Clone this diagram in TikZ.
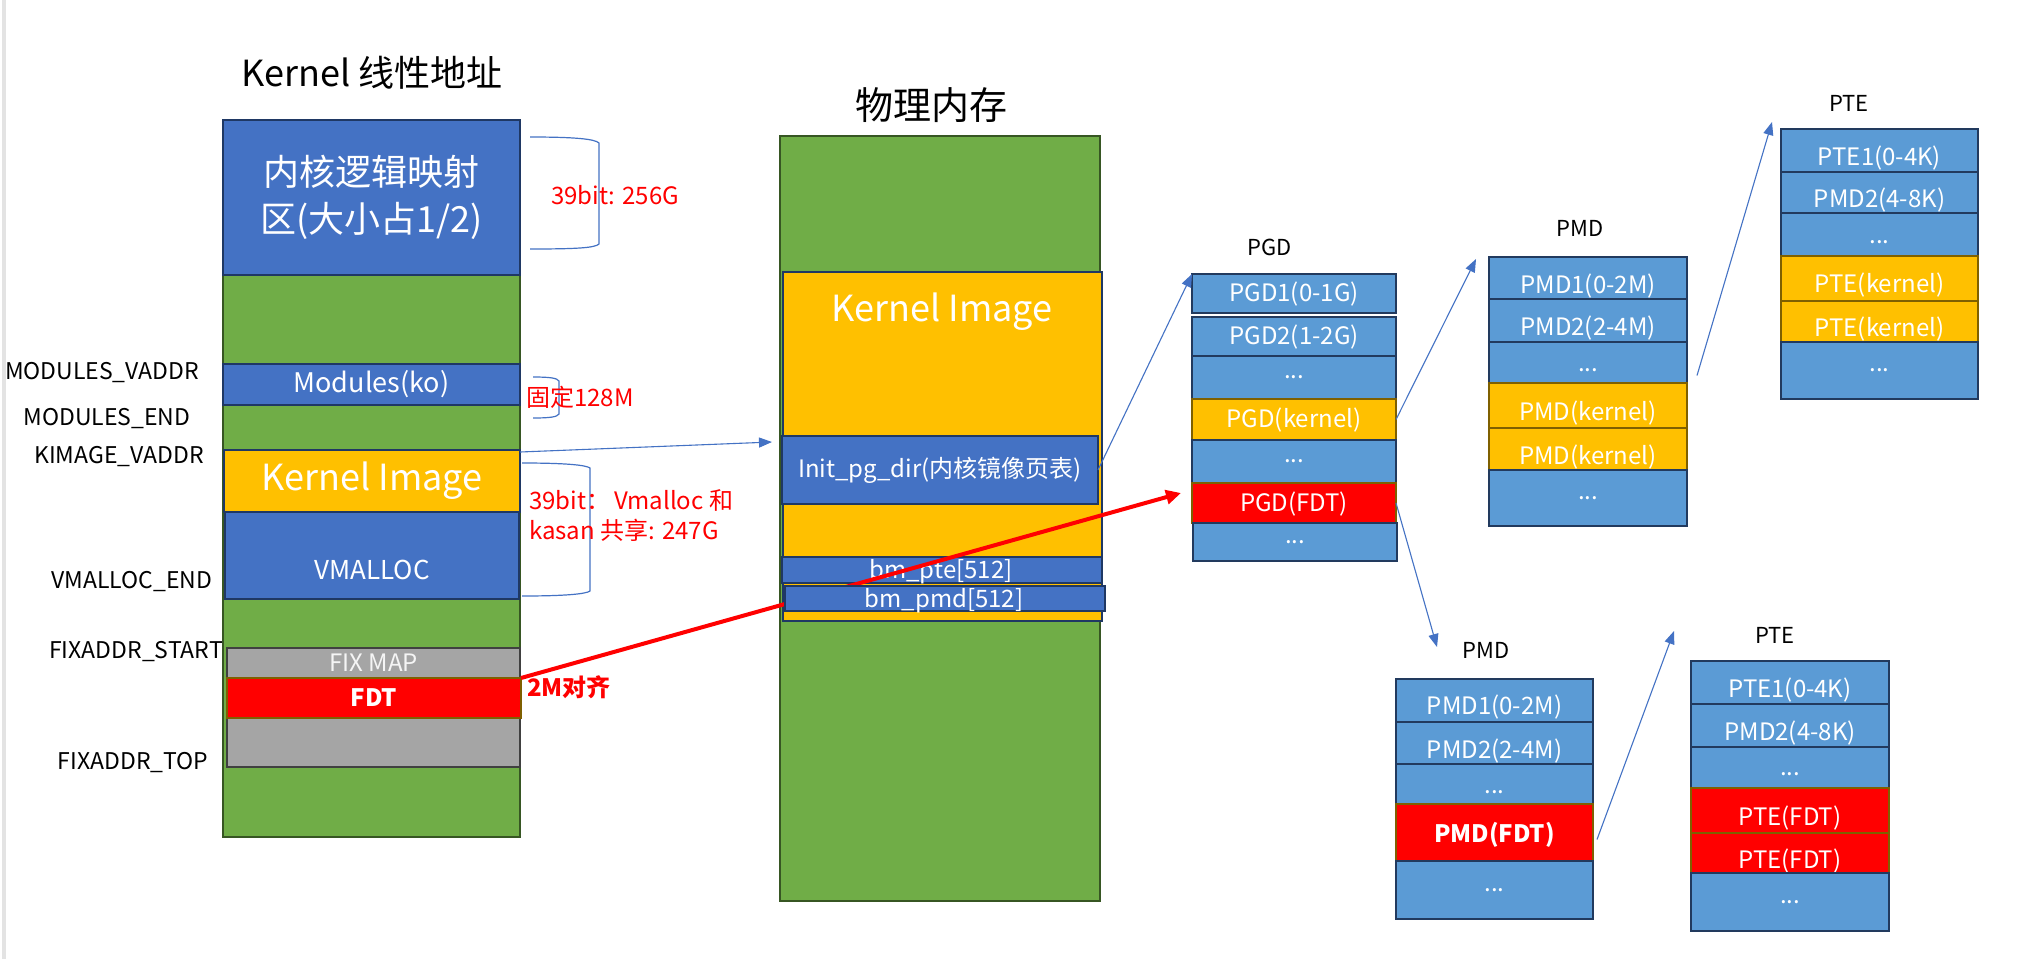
\documentclass[tikz,border=0pt]{standalone}
\usepackage{fontspec}
\setmainfont{Noto Sans CJK SC}
\usetikzlibrary{arrows.meta}
\definecolor{oblue}{HTML}{4472C4}
\definecolor{lblue}{HTML}{5B9BD5}
\definecolor{oyel}{HTML}{FFC000}
\definecolor{ogreen}{HTML}{70AD47}
\definecolor{ogray}{HTML}{A5A5A5}
\definecolor{navy}{HTML}{1F3864}
\definecolor{tbord}{HTML}{223A5E}
\definecolor{gborder}{HTML}{375623}
\definecolor{brownb}{HTML}{7F6000}
\definecolor{dgray}{HTML}{404040}
\tikzset{
  bxs/.style={rectangle,inner sep=0pt,outer sep=0pt,line width=2pt},
  bluebx/.style={fill=oblue,draw=navy},
  rowb/.style={fill=lblue,draw=tbord},
  rowy/.style={fill=oyel,draw=brownb},
  rowr/.style={fill=red,draw=brownb},
  wtxt/.style={text=white,inner sep=0pt},
  f24/.style={font=\fontsize{24}{28}\selectfont},
  f26/.style={font=\fontsize{26}{30}\selectfont},
  f27/.style={font=\fontsize{27}{31}\selectfont},
  f23/.style={font=\fontsize{23}{27}\selectfont},
  f22/.style={font=\fontsize{22}{26}\selectfont},
  f36/.style={font=\fontsize{36}{47}\selectfont},
  f38/.style={font=\fontsize{38}{44}\selectfont},
  lbl/.style={f23,inner sep=0pt,text=black},
  tlbl/.style={f22,inner sep=0pt,text=black},
  redtxt/.style={f24,inner sep=0pt,text=red,anchor=west,align=left},
  brace/.style={draw=oblue,line width=1.2pt},
  barrow/.style={draw=oblue,line width=1.1pt,-{Triangle[length=13pt,width=10pt]}},
  rarrow/.style={draw=red,line width=4pt,-{Triangle[length=15pt,width=14pt]}},
}
\newcommand{\bx}[7]{%
  \node[bxs,#6,minimum width={#4-#2},minimum height={#5-#3}] (#1) at ({(#2+#4)/2},{(#3+#5)/2}) {#7};}
\newcommand{\rw}[8]{%
  \node[bxs,#6,minimum width={#4-#2},minimum height={#5-#3}] (#1) at ({(#2+#4)/2},{(#3+#5)/2}) {};
  \node[wtxt,f24] (#1t) at ([yshift=-#8pt]#1.center) {#7};}
\begin{document}
\begin{tikzpicture}[x=1pt,y=-1pt]
\useasboundingbox (0,0) rectangle (2023,959);
\fill[white] (0,0) rectangle (2023,959);
\fill[gray!22] (2,0) rectangle (6,959);

% ---------------- left column: kernel linear address
\node[f36,inner sep=0pt] (ltitle) at (372,73) {Kernel 线性地址};
\bx{lcol}{223}{120}{520}{837}{fill=ogreen,draw=gborder}{}
\bx{lmap}{223}{120}{520}{275}{bluebx,wtxt,f36,align=center}{内核逻辑映射\\区(大小占1/2)}
\bx{lmod}{223}{364}{520}{405}{bluebx,wtxt,f27}{Modules(ko)}
\bx{limg}{224}{450}{520}{512}{fill=oyel,draw=navy,wtxt,f36}{Kernel Image}
\bx{lvm}{225}{512}{519}{599}{bluebx}{}
\node[wtxt,f26] (lvmt) at (372,570) {VMALLOC};
\bx{lfix}{227}{648}{520}{678}{fill=ogray,draw=dgray,text=gray!8,f24}{FIX MAP}
\bx{lfix2}{227}{718}{520}{767}{fill=ogray,draw=dgray}{}
\bx{lfdt}{227}{678}{521}{718}{fill=red,draw=brownb,wtxt,f24,font=\fontsize{24}{28}\selectfont\bfseries}{FDT}

\node[lbl] (l1) at (102,373) {MODULES\_VADDR};
\node[lbl] (l2) at (107,419) {MODULES\_END};
\node[lbl] (l3) at (119,457) {KIMAGE\_VADDR};
\node[lbl] (l4) at (132,582) {VMALLOC\_END};
\node[lbl] (l5) at (136,652) {FIXADDR\_START};
\node[lbl] (l6) at (133,763) {FIXADDR\_TOP};

% braces
\draw[brace] (530,137) .. controls (575,137) and (595,139) .. (599,143) -- (599,244) .. controls (595,248) and (575,249) .. (530,249);
\draw[brace] (533,377) .. controls (550,377) and (557,378) .. (559,381) -- (559,414) .. controls (557,417) and (550,418) .. (533,418);
\draw[brace] (522,463) .. controls (565,463) and (586,465) .. (590,468) -- (590,591) .. controls (586,594) and (565,596) .. (522,596);

\node[redtxt] (r1) at (551,195) {39bit: 256G};
\node[redtxt] (r2) at (526,397) {固定128M};
\node[redtxt] (r3) at (529,500) {39bit：\,Vmalloc 和};
\node[redtxt] (r4) at (529,530) {kasan 共享: 247G};
\node[redtxt,font=\fontsize{24}{28}\selectfont\bfseries] (r5) at (527,687) {2M对齐};

% ---------------- PGD
\node[tlbl] (pgdl) at (1270,247) {PGD};
\rw{g1}{1192}{274}{1396}{313}{rowb}{PGD1(0-1G)}{1}
\rw{g2}{1192}{317}{1396}{356}{rowb}{PGD2(1-2G)}{1}
\rw{g3}{1192}{356}{1396}{399}{rowb}{...}{0}
\rw{g4}{1192}{399}{1396}{440}{rowy}{PGD(kernel)}{1}
\rw{g5}{1192}{440}{1396}{483}{rowb}{...}{0}
\rw{g6}{1192}{483}{1396}{523}{rowr}{PGD(FDT)}{1}
\rw{g7}{1193}{523}{1397}{561}{rowb}{...}{0}

% ---------------- PMD (top)
\node[tlbl] (pmdl) at (1580,228) {PMD};
\rw{m1}{1489}{257}{1687}{299}{rowb}{PMD1(0-2M)}{8}
\rw{m2}{1489}{299}{1687}{342}{rowb}{PMD2(2-4M)}{8}
\rw{m3}{1489}{342}{1687}{383}{rowb}{...}{8}
\rw{m4}{1489}{383}{1687}{428}{rowy}{PMD(kernel)}{8}
\rw{m5}{1489}{428}{1687}{470}{rowy}{PMD(kernel)}{8}
\rw{m6}{1489}{470}{1687}{526}{rowb}{...}{0}

% ---------------- PTE (top)
\node[tlbl] (ptel) at (1849,103) {PTE};
\rw{e1}{1781}{129}{1978}{172}{rowb}{PTE1(0-4K)}{8}
\rw{e2}{1781}{172}{1978}{213}{rowb}{PMD2(4-8K)}{8}
\rw{e3}{1781}{213}{1978}{256}{rowb}{...}{8}
\rw{e4}{1781}{256}{1978}{301}{rowy}{PTE(kernel)}{7}
\rw{e5}{1781}{301}{1978}{342}{rowy}{PTE(kernel)}{8}
\rw{e6}{1781}{342}{1978}{399}{rowb}{...}{0}

% ---------------- PMD (bottom)
\node[tlbl] (bpmdl) at (1486,650) {PMD};
\rw{p1}{1396}{679}{1593}{722}{rowb}{PMD1(0-2M)}{7}
\rw{p2}{1396}{722}{1593}{764}{rowb}{PMD2(2-4M)}{8}
\rw{p3}{1396}{764}{1593}{804}{rowb}{...}{8}
\node[bxs,rowr,minimum width=197,minimum height=57] (p4) at (1494.5,832.5) {};
\node[wtxt,f24,font=\fontsize{24}{28}\selectfont\bfseries] (p4t) at ([yshift=-2pt]p4.center) {PMD(FDT)};
\rw{p5}{1396}{861}{1593}{919}{rowb}{...}{0}

% ---------------- PTE (bottom)
\node[tlbl] (bptel) at (1775,635) {PTE};
\rw{q1}{1691}{661}{1889}{704}{rowb}{PTE1(0-4K)}{8}
\rw{q2}{1691}{704}{1889}{747}{rowb}{PMD2(4-8K)}{8}
\rw{q3}{1691}{747}{1889}{788}{rowb}{...}{7}
\rw{q4}{1691}{788}{1889}{833}{rowr}{PTE(FDT)}{8}
\rw{q5}{1691}{833}{1889}{873}{rowr}{PTE(FDT)}{8}
\rw{q6}{1691}{873}{1889}{931}{rowb}{...}{0}

% ---------------- physical memory
\node[f38,inner sep=0pt] (ptitle) at (931,105) {物理内存};
\bx{pcol}{780}{136}{1100}{901}{fill=ogreen,draw=gborder}{}
\bx{pimg}{783}{272}{1102}{621}{fill=oyel,draw=navy}{}
\node[wtxt,f36] (pimgt) at (942,312) {Kernel Image};
\bx{ipg}{782}{436}{1098}{504}{bluebx,wtxt,f24}{Init\_pg\_dir(内核镜像页表)}
\bx{bpte}{782}{557}{1102}{583}{bluebx}{}
\node[wtxt,f24] (bptet) at (941,572) {bm\_pte[512]};
\draw[rarrow] (lfdt.north east) -- ([xshift=-11pt,yshift=10pt]g6.west);
\bx{bpmd}{785}{586}{1105}{611}{bluebx}{}
\node[wtxt,f24] (bpmdt) at (944,601) {bm\_pmd[512]};

% ---------------- blue arrows
\draw[barrow] ([yshift=-2pt]limg.north east) -- ([xshift=-10pt,yshift=28pt]ipg.west);
\draw[barrow] (ipg.east) -- (g1.north west);
\draw[barrow] (g4.east) -- ([xshift=-13pt,yshift=-2pt]m1.north west);
\draw[barrow] ([xshift=10pt,yshift=-13pt]m3.east) -- ([xshift=-9pt,yshift=7pt]e1.north west);
\draw[barrow] (g6.east) -- ([xshift=41pt,yshift=32pt]p1.north west);
\draw[barrow] ([xshift=4pt,yshift=-7pt]p4.east) -- ([xshift=-17pt,yshift=30pt]q1.north west);
\end{tikzpicture}
\end{document}
